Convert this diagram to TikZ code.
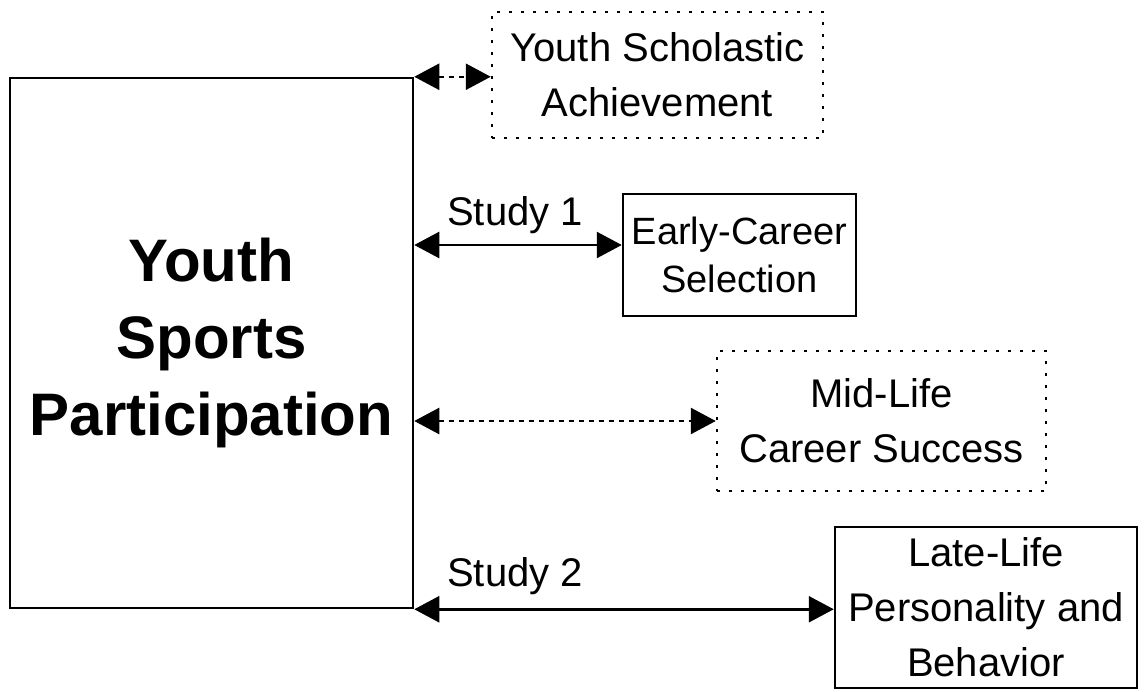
\documentclass[tikz,border=0pt]{standalone}
\usepackage{fontspec}
\setmainfont{Liberation Sans}
\usepackage{tikz}
\usetikzlibrary{arrows.meta,positioning}

\tikzset{
  solidbox/.style={draw,line width=2.5pt,align=center,inner sep=0pt,
    font=\fontsize{40}{55}\selectfont},
  dotbox/.style={solidbox,dash pattern=on 3pt off 9pt},
  bothway/.style={line width=2.5pt,{Triangle[length=25pt,width=26pt]}-{Triangle[length=25pt,width=26pt]}},
  dotway/.style={bothway,dash pattern=on 5pt off 5pt},
  studylabel/.style={font=\fontsize{40}{48}\selectfont,anchor=south west,inner sep=0pt}
}

\begin{document}
\begin{tikzpicture}[x=1pt,y=-1pt]
  \useasboundingbox (0,0) rectangle (1146,691);
  % boxes
  \node (main) at (211.5,343) [solidbox,minimum width=403,minimum height=530,
    font=\fontsize{60}{77}\selectfont\bfseries] {Youth\\Sports\\Participation};
  \node (school) at (657.5,75) [dotbox,minimum width=331,minimum height=126] {Youth Scholastic\\Achievement};
  \node (early) at (739.5,255) [solidbox,minimum width=233,minimum height=122,
    font=\fontsize{38}{48}\selectfont] {Early-Career\\Selection};
  \node (midlife) at (881.5,421) [dotbox,minimum width=329,minimum height=140] {Mid-Life\\Career Success};
  \node (late) at (986,607.5) [solidbox,minimum width=302,minimum height=161] {Late-Life\\Personality and\\Behavior};
  % links
  \draw[dotway] (main.north east) -- (school.west |- main.north east);
  \draw[bothway] ([yshift=10pt]early.west -| main.east) -- ([yshift=10pt]early.west);
  \draw[dotway] (midlife.west -| main.east) -- (midlife.west);
  \draw[bothway] (main.south east) -- (late.west |- main.south east);
  \node (study1) at (447,234) [studylabel] {Study 1};
  \node (study2) at (447,595) [studylabel] {Study 2};
\end{tikzpicture}
\end{document}
